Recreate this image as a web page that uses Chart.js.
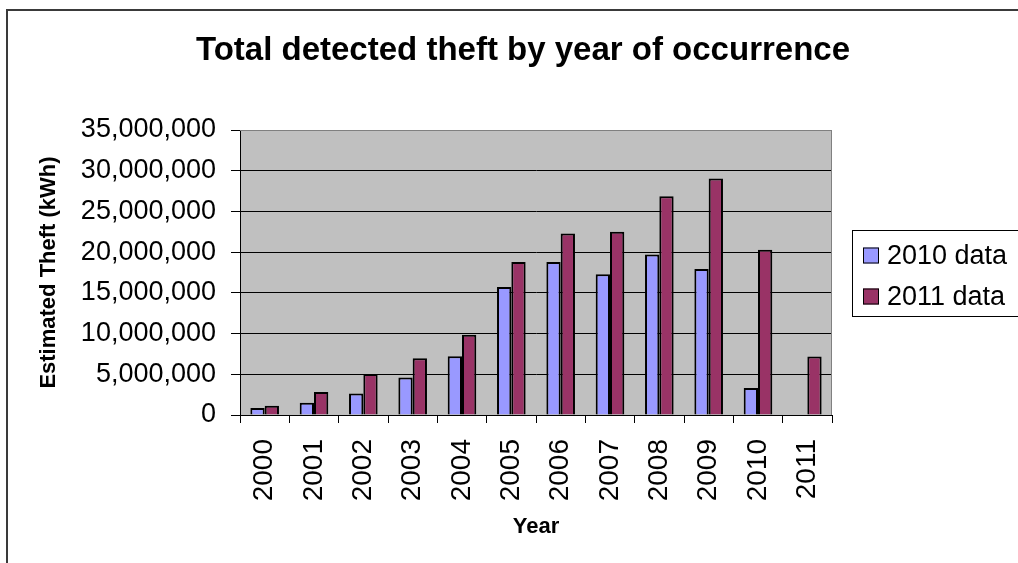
<!DOCTYPE html>
<html>
<head>
<meta charset="utf-8">
<script src="https://cdn.jsdelivr.net/npm/chart.js@4.4.1/dist/chart.umd.min.js"></script>
<style>
  html, body { margin: 0; padding: 0; background: #ffffff; }
  #wrap { width: 1018px; height: 563px; position: relative; }
</style>
</head>
<body>
<div id="wrap"><canvas id="c" width="1018" height="563"></canvas></div>
<script>
// ---- data ----
const categories = ['2000','2001','2002','2003','2004','2005','2006','2007','2008','2009','2010','2011'];
const data2010 = [860000, 1510000, 2650000, 4610000, 7230000, 15720000, 18780000, 17270000, 19720000, 17930000, 3310000, null];
const data2011 = [1140000, 2820000, 5020000, 6980000, 9840000, 18780000, 22300000, 22500000, 26870000, 29030000, 20290000, 7190000];
const seriesNames = ['2010 data', '2011 data'];
const yTickMin = 0, yTickMax = 35000000, yTickStep = 5000000;
const titleText = 'Total detected theft by year of occurrence';
const yTitle = 'Estimated Theft (kWh)';
const xTitle = 'Year';

const FONT = '"Liberation Sans", Arial, Helvetica, sans-serif';

const framePlugin = {
  id: 'frame',
  beforeDraw(chart) {
    const ctx = chart.ctx, a = chart.chartArea;
    ctx.save();
    ctx.fillStyle = '#ffffff';
    ctx.fillRect(0, 0, chart.width, chart.height);
    // outer border
    ctx.strokeStyle = '#3a3a3a';
    ctx.lineWidth = 2;
    ctx.beginPath();
    ctx.moveTo(7, chart.height + 2);
    ctx.lineTo(7, 10);
    ctx.lineTo(chart.width + 2, 10);
    ctx.stroke();
    // plot background
    ctx.fillStyle = '#C0C0C0';
    ctx.fillRect(a.left, a.top, a.right - a.left, a.bottom - a.top);
    ctx.restore();
  },
  afterDraw(chart) {
    const ctx = chart.ctx, a = chart.chartArea;
    ctx.save();
    // plot border top/right
    ctx.strokeStyle = '#808080';
    ctx.lineWidth = 1;
    ctx.beginPath();
    ctx.moveTo(a.left, a.top + 0.5);
    ctx.lineTo(a.right - 0.5, a.top + 0.5);
    ctx.lineTo(a.right - 0.5, a.bottom);
    ctx.stroke();
    // title
    ctx.fillStyle = '#000';
    ctx.font = 'bold 33px ' + FONT;
    ctx.textAlign = 'center';
    ctx.textBaseline = 'alphabetic';
    ctx.fillText(titleText, 523, 60);
    // legend
    const lx = 852, ly = 230, lh = 86;
    ctx.strokeStyle = '#000';
    ctx.lineWidth = 1;
    ctx.strokeRect(lx + 0.5, ly + 0.5, 200, lh);
    const ys = [255.5, 296.5];
    chart.data.datasets.forEach((ds, i) => {
      ctx.fillStyle = ds.backgroundColor;
      ctx.fillRect(863, ys[i] - 8, 16, 16);
      ctx.strokeStyle = '#000';
      ctx.lineWidth = 1;
      ctx.strokeRect(863.5, ys[i] - 7.5, 15, 15);
      ctx.fillStyle = '#000';
      ctx.font = '27px ' + FONT;
      ctx.textAlign = 'left';
      ctx.textBaseline = 'middle';
      ctx.fillText(ds.label, 887, ys[i] + 1);
    });
    ctx.restore();
  }
};

new Chart(document.getElementById('c'), {
  type: 'bar',
  data: {
    labels: categories,
    datasets: [
      { label: seriesNames[0], data: data2010, backgroundColor: '#9999FF', borderColor: '#000000', borderWidth: 2, borderSkipped: 'bottom' },
      { label: seriesNames[1], data: data2011, backgroundColor: '#993366', borderColor: '#000000', borderWidth: 2, borderSkipped: 'bottom' }
    ]
  },
  options: {
    responsive: false,
    animation: false,
    devicePixelRatio: 1,
    layout: { padding: { left: 0, top: 130, right: 186, bottom: 0 } },
    datasets: { bar: { categoryPercentage: 0.58, barPercentage: 1.0 } },
    plugins: {
      legend: { display: false },
      title: { display: false },
      tooltip: { enabled: false }
    },
    scales: {
      x: {
        offset: true,
        grid: { display: true, drawOnChartArea: false, offset: true, tickLength: 8, color: '#000', tickColor: '#000' },
        border: { display: true, color: '#000', width: 1 },
        ticks: { color: '#000', font: { family: FONT, size: 28 }, minRotation: 90, maxRotation: 90, autoSkip: false, padding: 16 },
        title: { display: true, text: xTitle, color: '#000', font: { family: FONT, size: 22, weight: 'bold' }, padding: { top: 0, bottom: 23 } },
        afterFit(scale) { scale.height = 148; }
      },
      y: {
        min: yTickMin, max: yTickMax,
        grid: { color: (c) => (c.tick && c.tick.value === yTickMax ? '#808080' : '#000'), tickColor: '#000', tickLength: 9, lineWidth: 1 },
        border: { display: true, color: '#000', width: 1 },
        ticks: {
          stepSize: yTickStep, color: '#000', padding: 15,
          font: { family: FONT, size: 27 },
          callback: (v) => Number(v).toLocaleString('en-US')
        },
        title: { display: true, text: yTitle, color: '#000', font: { family: FONT, size: 22, weight: 'bold' }, padding: { top: 36, bottom: 0 } },
        afterFit(scale) { scale.width = 240; }
      }
    }
  },
  plugins: [framePlugin]
});
</script>
</body>
</html>
